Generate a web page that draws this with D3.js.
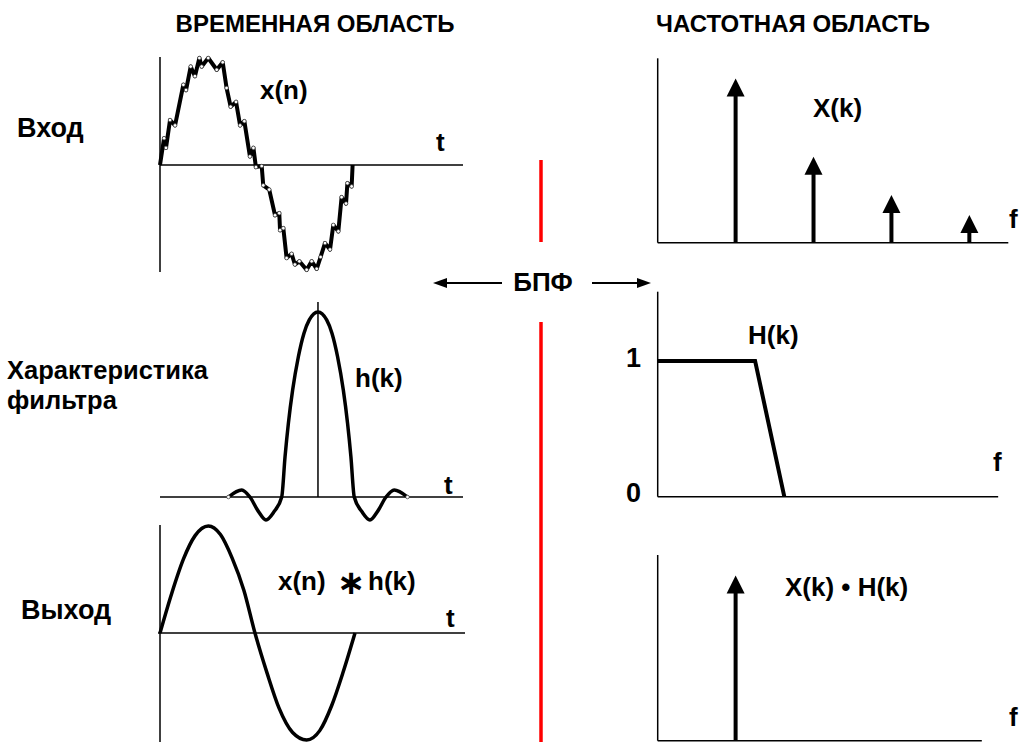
<!DOCTYPE html>
<html>
<head>
<meta charset="utf-8">
<script src="https://cdn.jsdelivr.net/npm/d3@7"></script>
<style>
  body { margin: 0; background: #fff; }
  text { font-family: "Liberation Sans", Arial, sans-serif; font-weight: bold; fill: #000; }
</style>
</head>
<body>
<svg id="chart" width="1023" height="742"></svg>
<script>
// ---- data ----
var headers = ["ВРЕМЕННАЯ ОБЛАСТЬ", "ЧАСТОТНАЯ ОБЛАСТЬ"];
var rowLabels = [["Вход"], ["Характеристика", "фильтра"], ["Выход"]];

// input signal x(n): one period with ripple, t in periods
var inputT = [0, 0.021, 0.031, 0.052, 0.078, 0.121, 0.135, 0.159, 0.181, 0.204,
              0.216, 0.250, 0.294, 0.325, 0.345, 0.366, 0.394, 0.415, 0.437, 0.466,
              0.484, 0.497, 0.527, 0.535, 0.566, 0.596, 0.618, 0.622, 0.639, 0.656,
              0.682, 0.699, 0.722, 0.760, 0.786, 0.812, 0.832, 0.855, 0.881, 0.898,
              0.924, 0.941, 0.964, 0.971, 0.993, 0.998];
var inputV = [0, 0.25, 0.16, 0.42, 0.37, 0.75, 0.70, 0.92, 0.83, 1.0,
              0.92, 1.0, 0.89, 0.96, 0.72, 0.545, 0.59, 0.37, 0.41, 0.08,
              0.16, -0.02, -0.01, -0.19, -0.23, -0.47, -0.45, -0.61, -0.59, -0.87,
              -0.83, -0.93, -0.90, -0.98, -0.90, -0.97, -0.86, -0.73, -0.79, -0.56,
              -0.62, -0.30, -0.36, -0.17, -0.20, 0];

// filter impulse response h(k), t relative to centre
var filterT = [-2.42, -2.06, -1.84, -1.62, -1.405, -1.19, -0.98, -0.89, -0.80, -0.685,
               -0.53, -0.38, -0.235, 0, 0.235, 0.38, 0.53, 0.685, 0.80, 0.89,
               0.98, 1.19, 1.405, 1.62, 1.84, 2.06, 2.42];
var filterV = [0, 0.038, 0, -0.075, -0.124, -0.08, 0, 0.218, 0.398, 0.578,
               0.758, 0.884, 0.957, 1, 0.957, 0.884, 0.758, 0.578, 0.398, 0.218,
               0, -0.08, -0.124, -0.075, 0, 0.038, 0];

// output x(n) * h(k)
var outputT = [0, 0.06, 0.12, 0.18, 0.248, 0.31, 0.37, 0.43, 0.487, 0.55,
               0.61, 0.68, 0.752, 0.82, 0.88, 0.94, 1.0];
var outputV = [0, 0.37, 0.69, 0.91, 1.0, 0.92, 0.70, 0.40, 0, -0.38,
               -0.70, -0.93, -1.0, -0.91, -0.68, -0.36, 0];

// spectra
var spectrumK = [1, 2, 3, 4];
var spectrumX = [0.89, 0.466, 0.258, 0.15];
var responseK = [0, 1.25, 1.625];
var responseH = [1, 1, 0];
var productK = [1];
var productX = [0.89];

var svg = d3.select("#chart");

function zip(a, b) {
  return a.map(function(d, i) { return {t: d, v: b[i]}; });
}

function label(x, y, str, size, anchor) {
  return svg.append("text")
    .attr("x", x).attr("y", y)
    .attr("text-anchor", anchor || "start")
    .style("font-size", size + "px")
    .text(str);
}

function hline(x1, x2, y, w) {
  svg.append("line").attr("x1", x1).attr("x2", x2).attr("y1", y).attr("y2", y)
    .attr("stroke", "#000").attr("stroke-width", w || 1.5);
}
function vline(x, y1, y2, w) {
  svg.append("line").attr("x1", x).attr("x2", x).attr("y1", y1).attr("y2", y2)
    .attr("stroke", "#000").attr("stroke-width", w || 1.5);
}

// ---- headings and row labels ----
label(315, 32, headers[0], 24, "middle");
label(793, 32, headers[1], 24, "middle");

label(17, 137, rowLabels[0][0], 27);
label(7, 379, rowLabels[1][0], 25.5);
label(7, 409, rowLabels[1][1], 25.5);
label(21, 619, rowLabels[2][0], 27);

// ---- time domain: input ----
var tx1 = d3.scaleLinear().domain([0, 1.57]).range([160, 463]),
    ty1 = d3.scaleLinear().domain([-1, 1]).range([272, 58]);

hline(tx1(0), tx1(1.57), ty1(0));
vline(tx1(0), 57, 272);

var line1 = d3.line()
  .x(function(d) { return tx1(d.t); })
  .y(function(d) { return ty1(d.v); });

var inputData = zip(inputT, inputV);
svg.append("path").datum(inputData)
  .attr("d", line1)
  .attr("fill", "none").attr("stroke", "#000")
  .attr("stroke-width", 4).attr("stroke-linejoin", "round");

svg.selectAll(".sample").data(inputData.slice(1, -1))
  .enter().append("circle")
  .attr("class", "sample")
  .attr("cx", function(d) { return tx1(d.t); })
  .attr("cy", function(d) { return ty1(d.v); })
  .attr("r", 1.8)
  .attr("fill", "#fff").attr("stroke", "#333").attr("stroke-width", 0.7);

label(260, 99, "x(n)", 26);
label(436, 151, "t", 26);

// ---- time domain: filter ----
var tx2 = d3.scaleLinear().domain([-4.27, 3.92]).range([160, 463]),
    ty2 = d3.scaleLinear().domain([0, 1]).range([497, 312]);

hline(tx2(-4.27), tx2(3.92), ty2(0));
vline(tx2(0), ty2(1.054), ty2(0));

var line2 = d3.line()
  .curve(d3.curveMonotoneX)
  .x(function(d) { return tx2(d.t); })
  .y(function(d) { return ty2(d.v); });

var filterData = zip(filterT, filterV);
svg.append("path").datum(filterData)
  .attr("d", line2)
  .attr("fill", "none").attr("stroke", "#000").attr("stroke-width", 3.5);

svg.selectAll(".fend").data([filterData[0], filterData[filterData.length - 1]])
  .enter().append("circle")
  .attr("class", "fend")
  .attr("cx", function(d) { return tx2(d.t); })
  .attr("cy", function(d) { return ty2(d.v); })
  .attr("r", 1.8)
  .attr("fill", "#fff").attr("stroke", "#333").attr("stroke-width", 0.7);

label(355, 387, "h(k)", 26);
label(444, 494, "t", 26);

// ---- time domain: output ----
var tx3 = d3.scaleLinear().domain([0, 1.564]).range([160, 465]),
    ty3 = d3.scaleLinear().domain([-1, 1]).range([740, 526]);

hline(158, tx3(1.564), ty3(0));
vline(tx3(0), 525, 742);

var line3 = d3.line()
  .curve(d3.curveMonotoneX)
  .x(function(d) { return tx3(d.t); })
  .y(function(d) { return ty3(d.v); });

svg.append("path").datum(zip(outputT, outputV))
  .attr("d", line3)
  .attr("fill", "none").attr("stroke", "#000").attr("stroke-width", 3.5);

var conv = label(278, 590, "", 26);
conv.append("tspan").attr("x", 278).text("x(n)");
conv.append("tspan").attr("x", 337).attr("y", 594)
  .style("font-family", "DejaVu Sans").style("font-size", "34px").text("∗");
conv.append("tspan").attr("x", 368).attr("y", 590).text("h(k)");
label(446, 627, "t", 26);

// ---- red dividers and FFT arrows ----
svg.append("line").attr("x1", 541).attr("x2", 541).attr("y1", 160).attr("y2", 242)
  .attr("stroke", "#f00").attr("stroke-width", 3.5);
svg.append("line").attr("x1", 541).attr("x2", 541).attr("y1", 322).attr("y2", 742)
  .attr("stroke", "#f00").attr("stroke-width", 3.5);

hline(443, 502, 283, 2);
hline(592, 640, 283, 2);
svg.append("path").attr("d", "M433,283L447,278L447,288Z").attr("fill", "#000");
svg.append("path").attr("d", "M651,283L637,278L637,288Z").attr("fill", "#000");
label(543, 291, "БПФ", 26, "middle");

// ---- frequency domain ----
var fx = d3.scaleLinear().domain([0, 4.5]).range([657.7, 1008.3]);

function arrows(data, fy, cls) {
  var g = svg.selectAll("." + cls).data(data).enter().append("g").attr("class", cls);
  g.append("line")
    .attr("x1", function(d) { return fx(d.t); })
    .attr("x2", function(d) { return fx(d.t); })
    .attr("y1", fy(0))
    .attr("y2", function(d) { return fy(d.v) + 16; })
    .attr("stroke", "#000").attr("stroke-width", 4);
  g.append("path")
    .attr("d", function(d) {
      var x = fx(d.t), y = fy(d.v);
      return "M" + x + "," + y + "L" + (x + 9) + "," + (y + 18) + "L" + (x - 9) + "," + (y + 18) + "Z";
    })
    .attr("fill", "#000");
}

// X(k)
var fy4 = d3.scaleLinear().domain([0, 1]).range([242.7, 58.3]);
hline(fx(0), fx(4.5), fy4(0));
vline(fx(0), fy4(1), fy4(0));
arrows(zip(spectrumK, spectrumX), fy4, "specX");
label(813, 117, "X(k)", 26);
label(1009, 228, "f", 26);

// H(k)
var fy5 = d3.scaleLinear().domain([0, 1.51]).range([496.7, 291.7]);
hline(fx(0), fx(4.37), fy5(0));
vline(fx(0), fy5(1.51), fy5(0));
var line5 = d3.line()
  .x(function(d) { return fx(d.t); })
  .y(function(d) { return fy5(d.v); });
svg.append("path").datum(zip(responseK, responseH))
  .attr("d", line5)
  .attr("fill", "none").attr("stroke", "#000").attr("stroke-width", 4);
label(748, 344, "H(k)", 26);
label(626, 367, "1", 27);
label(626, 502, "0", 27);
label(993, 471, "f", 26);

// X(k) . H(k)
var fy6 = d3.scaleLinear().domain([0, 1]).range([740.7, 555]);
hline(fx(0), fx(4.16), fy6(0));
vline(fx(0), fy6(1), fy6(0));
arrows(zip(productK, productX), fy6, "specY");
label(785, 596, "X(k) • H(k)", 26);
label(1009, 726, "f", 26);
</script>
</body>
</html>
